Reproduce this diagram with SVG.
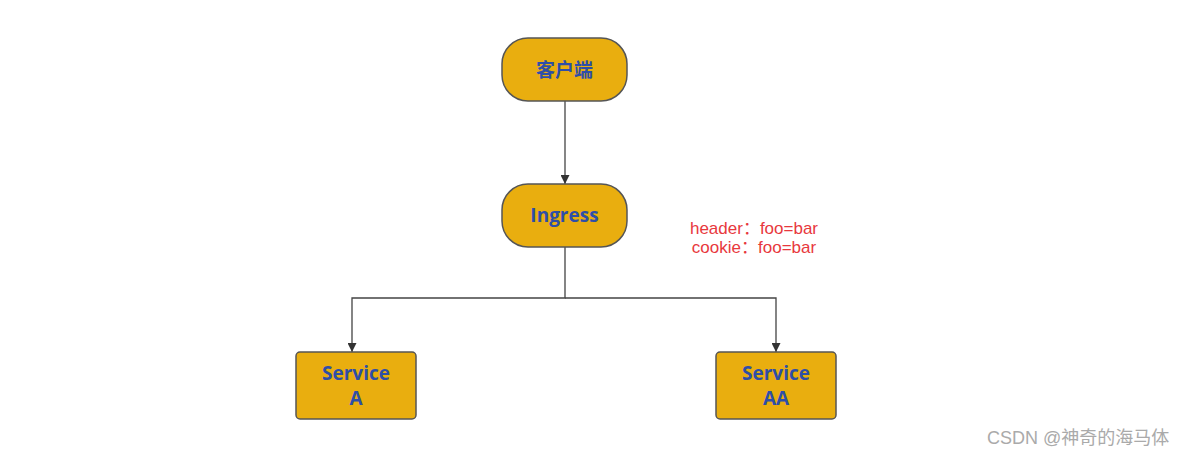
<svg xmlns="http://www.w3.org/2000/svg" width="1184" height="455" viewBox="0 0 1184 455">
<style>
.node{fill:#e9ae0f;stroke:#555;stroke-width:1.5}
.lbl{font-family:"Open Sans","Noto Sans CJK SC",sans-serif;font-weight:bold;font-size:19px;fill:#2e4ea8;text-anchor:middle}
.edge{fill:none;stroke:#444;stroke-width:1.3}
.note{font-family:"Liberation Sans","Noto Sans CJK SC",sans-serif;font-size:17px;fill:#e8383d;text-anchor:middle}
.wm{font-family:"Liberation Sans","Noto Sans CJK SC",sans-serif;font-size:18px;fill:#aaa}
</style>
<defs>
<marker id="arr" viewBox="0 0 10 10" refX="10" refY="5" markerWidth="9" markerHeight="9" markerUnits="userSpaceOnUse" orient="auto">
<path d="M0,0 L10,5 L0,10 z" fill="#333"/>
</marker>
</defs>
<rect width="1184" height="455" fill="#fff"/>
<g id="connectors">
<path class="edge" d="M565,101 V184" marker-end="url(#arr)"/>
<path class="edge" d="M565,247 V298 H352 V352" marker-end="url(#arr)"/>
<path class="edge" d="M565,298 H776 V352" marker-end="url(#arr)"/>
</g>
<g id="client">
<rect class="node" x="502" y="38" width="125" height="63" rx="26"/>
<text class="lbl" x="564.5" y="76.500">客户端</text>
</g>
<g id="ingress">
<rect class="node" x="502" y="184" width="125" height="63" rx="26"/>
<text class="lbl" x="564.5" y="222">Ingress</text>
</g>
<g id="serviceA">
<rect class="node" x="296" y="352" width="120" height="67" rx="4"/>
<text class="lbl" x="356" y="380">Service</text>
<text class="lbl" x="356" y="405">A</text>
</g>
<g id="serviceAA">
<rect class="node" x="716" y="352" width="120" height="67" rx="4"/>
<text class="lbl" x="776" y="380">Service</text>
<text class="lbl" x="776" y="405">AA</text>
</g>
<g id="note">
<text class="note" x="754" y="234">header：foo=bar</text>
<text class="note" x="754" y="253">cookie：foo=bar</text>
</g>
<text class="wm" x="987" y="444">CSDN @神奇的海马体</text>
</svg>
